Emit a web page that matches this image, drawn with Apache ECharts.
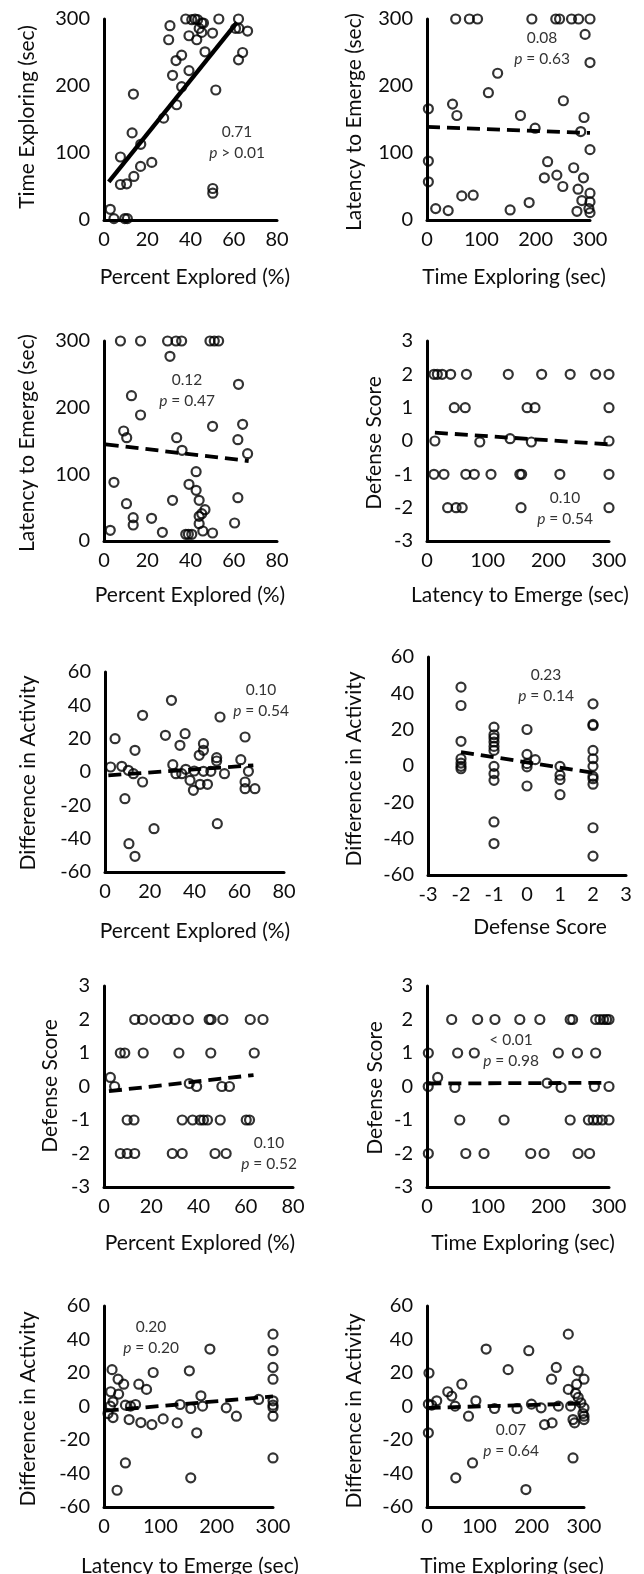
<!DOCTYPE html>
<html>
<head>
<meta charset="utf-8">
<script src="https://cdn.jsdelivr.net/npm/echarts@6/dist/echarts.min.js"></script>
<style>
  html, body { margin: 0; padding: 0; background: #fff; }
  #main { width: 644px; height: 1574px; }
</style>
</head>
<body>
<div id="main"></div>
<script>
// panel 1: percent explored vs time exploring
const exploredVsTime = [[2.9,16],[4.6,2],[7.6,53],[7.6,94],[9.6,2],[10.8,2],[10.5,54],[13,130],[13.6,188],[13.8,65],[16.9,80],[17,113],[22.1,86],[27.6,152],[29.9,269],[30.5,290],[31.7,216],[33.6,172],[33.3,238],[35.9,246],[35.9,199],[37.8,300],[39.3,223],[39.3,275],[40.6,299],[42.1,300],[42.9,269],[43.3,299],[44,286],[45.2,294],[45.2,280],[46,294],[46.7,251],[50.2,279],[50.3,47],[50.3,40],[51.7,194],[53.1,300],[60.8,286],[62.2,300],[62.4,286],[62.2,239],[64.1,250],[66.4,282]];
const exploredVsTimeFit = [[2.2,57],[61.5,295]];

// panel 2: time exploring vs latency
const timeVsLatency = [[52.8,300],[78,300],[93,300],[193,300],[237,300],[244,300],[266,300],[279,300],[300,300],[291,277],[300,235],[130,219],[113,190],[47,173],[55,156],[2.5,166],[251,178],[172,156],[199,137],[289,153],[283,132],[300,105],[2.5,88],[2.5,57],[222,87],[216,63],[239,67],[250,50],[270,78],[288,63],[278,46],[285,29],[300,40],[300,27],[298,17],[276,13],[300,11],[16,17],[39,14],[64,36],[85,37],[153,15],[188,26]];
const timeVsLatencyFit = [[0,139],[300,130]];

// panel 3: percent explored vs latency
const exploredVsLatency = [[7.6,300],[16.9,300],[29.4,300],[33.3,300],[35.9,300],[49,300],[51,300],[53,300],[30.5,277],[12.7,218],[16.9,189],[9.1,165],[10.5,155],[33.6,155],[36.1,136],[50.2,172],[62.2,235],[64.1,175],[61.9,152],[66.4,131],[42.6,104],[4.6,88],[10.4,56],[13.5,35],[13.5,24],[2.9,16],[22,34],[27,13],[31.7,61],[39.3,85],[42.6,76],[44,61],[44,37],[45.2,41],[46.7,47],[44,26],[45.7,15],[50.2,12],[37.8,10],[39,10],[40.6,10],[60.4,27],[61.9,65]];
const exploredVsLatencyFit = [[0.8,145],[66.9,120]];

// panel 4: latency vs defense score
const latencyVsDefense = [[11.5,2],[17,2],[25,2],[39,2],[65,2],[134,2],[189,2],[236,2],[278,2],[300,2],[45,1],[63,1],[165,1],[178,1],[300,1],[13,0],[87,-0.03],[137,0.07],[172,-0.03],[300,0],[11.5,-1],[28,-1],[64,-1],[78,-1],[105.5,-1],[153,-1],[156,-1],[219,-1],[300,-1],[34,-2],[48,-2],[58,-2],[155,-2],[300,-2]];
const latencyVsDefenseFit = [[13,0.25],[300,-0.1]];

// panel 5: percent explored vs difference in activity
const exploredVsActivity = [[2.5,3],[4.5,20],[7.5,3.4],[8.9,-16],[10.4,1],[10.7,-43],[13.4,13],[13.4,-50.6],[12.7,-1],[16.8,34],[16.8,-6],[21.9,-34],[27,22],[29.7,43],[30.3,4.4],[31.7,-1],[33.5,16],[34.3,-1],[35.8,23],[36.1,1.6],[38,-5],[39.5,-11],[39.9,0.6],[42.1,10],[44,13],[44,17],[44,0.4],[42.5,-7.4],[45.8,-7.4],[47.3,0.4],[49.9,8.6],[49.9,6.6],[50.2,-31],[51.4,33],[53.4,-1],[60.7,7.4],[62.6,21],[62.6,-6],[62.6,-10],[64.1,0.4],[67,-10]];
const exploredVsActivityFit = [[1.5,-2],[66.3,4]];

// panel 6: defense score vs difference in activity
const defenseVsActivity = [[-2,43.4],[-2,33.3],[-2,13.6],[-2,4],[-2,1.6],[-2,-0.2],[-2,-1.5],[-1,21.4],[-1,17.2],[-1,15.4],[-1,13.2],[-1,10.8],[-1,8.6],[-1,-0.2],[-1,-4.2],[-1,-7.9],[-1,-30.8],[-1,-42.7],[0,20.1],[0,6.4],[0,1.3],[0,-0.5],[0,-11],[0.25,3.5],[1,-0.2],[1,-5.1],[1,-7.5],[1,-15.8],[2,34.2],[2,22.9],[2,22.3],[2,8.6],[2,4],[2,-0.2],[2,-5.7],[2,-7],[2,-10],[2,-34],[2,-49.6]];
const defenseVsActivityFit = [[-2,7.7],[2,-3.7]];

// panel 7: percent explored vs defense score
const exploredVsDefense = [[13,2],[16.3,2],[21.5,2],[26.8,2],[30,2],[35.7,2],[44.5,2],[45.3,2],[50.3,2],[61.9,2],[67.3,2],[6.9,1],[8.8,1],[16.6,1],[31.7,1],[45.2,1],[63.6,1],[2.7,0.27],[4.5,0],[36.1,0.09],[39.2,0],[49.9,0],[53.1,0],[9.8,-1],[12.7,-1],[33.1,-1],[37.5,-1],[40.7,-1],[42.1,-1],[43.8,-1],[49.2,-1],[60.2,-1],[61.6,-1],[6.9,-2],[9.8,-2],[13,-2],[28.9,-2],[33.1,-2],[47,-2],[51.7,-2]];
const exploredVsDefenseFit = [[2.1,-0.14],[63.3,0.34]];

// panel 8: time exploring vs defense score
const timeVsDefense = [[40.7,2],[83.5,2],[112,2],[153,2],[186,2],[236,2],[240,2],[278,2],[285,2],[291,2],[296,2],[300,2],[2.2,1],[50.5,1],[78,1],[216.5,1],[248,1],[278,1],[2,0],[17.6,0.27],[46,-0.03],[198,0.1],[221,-0.03],[276,0],[300,0],[54,-1],[127,-1],[236,-1],[266,-1],[274,-1],[281,-1],[289,-1],[300,-1],[2.2,-2],[64,-2],[94,-2],[171,-2],[193,-2],[249,-2],[268,-2]];
const timeVsDefenseFit = [[2.2,0.09],[296,0.11]];

// panel 9: latency vs difference in activity
const latencyVsActivity = [[14.3,22],[11.9,8.8],[16,2.8],[11.3,0.2],[7.1,-4.2],[16,-6.6],[25,16.3],[35,13.3],[26,7.4],[38,0.8],[44.6,-7.8],[38,-33.7],[23.2,-50],[47,0.2],[56,1.2],[61.8,13.3],[75.5,10.2],[65.4,-9.6],[87.3,20.3],[85,-10.8],[105,-7.4],[130,-9.8],[135,1.2],[151.5,21.3],[154,-1.2],[154,-42.6],[164.6,-15.7],[172,6.4],[175,0.2],[188,34.3],[217,-0.8],[235,-5.8],[274.5,4.2],[300,43.2],[300,33.3],[300,23.3],[300,16.3],[300,3.4],[300,0.8],[300,-0.6],[300,-5.8],[300,-30.7]];
const latencyVsActivityFit = [[3,-2.5],[300,6]];

// panel 10: time exploring vs difference in activity
const timeVsActivity = [[3.8,20],[2.6,1.4],[2.6,-15.7],[9,0.8],[18.6,3.4],[39.7,8.8],[47.3,6.2],[53.7,0.2],[66.5,13.3],[79.3,-5.8],[55,-42.6],[87,-33.7],[93.4,3.4],[113,34.3],[129,-1.2],[155,22],[172,-1.2],[189,-49.6],[194.5,33.3],[199.6,1.4],[218,-0.8],[224.6,-10.8],[239,-9.8],[238,16.3],[247,23.3],[251,0.2],[270,43.2],[270,10.2],[274.5,0.2],[279,-30.7],[279,-7.8],[282,-9.8],[289,21.3],[286,13.3],[284,7.8],[289,5.4],[300,16.3],[294,2.2],[300,-0.8],[300,-5.8],[300,-7.8],[298,-4.2]];
const timeVsActivityFit = [[1.3,-0.8],[300,1.8]];

const axisTitles = ['Percent Explored (%)', 'Time Exploring (sec)', 'Latency to Emerge (sec)', 'Defense Score', 'Difference in Activity'];
const statR = ['0.71', '0.08', '0.12', '0.10', '0.10', '0.23', '0.10', '< 0.01', '0.20', '0.07'];
const statP = ['> 0.01', '= 0.63', '= 0.47', '= 0.54', '= 0.54', '= 0.14', '= 0.52', '= 0.98', '= 0.20', '= 0.64'];

const PCT = {min: 0, max: 80, interval: 20};
const SEC = {min: 0, max: 300, interval: 100};
const DEF = {min: -3, max: 3, interval: 1};
const ACT = {min: -60, max: 60, interval: 20};

const panels = [
  {pts: exploredVsTime, fit: exploredVsTimeFit, solid: true, x: PCT, y: SEC, xt: 0, yt: 1,
   g: [104, 19, 173, 201], xT: [195, 277], yT: [27, 117], s: [237, 132]},
  {pts: timeVsLatency, fit: timeVsLatencyFit, x: SEC, y: SEC, xt: 1, yt: 2,
   g: [427, 19, 163, 201], xT: [514, 277], yT: [354, 122], s: [542, 38]},
  {pts: exploredVsLatency, fit: exploredVsLatencyFit, x: PCT, y: SEC, xt: 0, yt: 2,
   g: [104, 341, 173, 200], xT: [190, 595], yT: [27, 443], s: [187, 380]},
  {pts: latencyVsDefense, fit: latencyVsDefenseFit, x: SEC, y: DEF, xt: 2, yt: 3,
   g: [427, 341, 182, 200], xT: [520, 595], yT: [374, 443], s: [565, 498]},
  {pts: exploredVsActivity, fit: exploredVsActivityFit, x: PCT, y: ACT, xt: 0, yt: 4,
   g: [105, 672, 179, 200], xT: [195, 931], yT: [28, 773], s: [261, 690]},
  {pts: defenseVsActivity, fit: defenseVsActivityFit, x: DEF, y: ACT, xt: 3, yt: 4,
   g: [428, 657, 198, 218], xT: [540, 927], yT: [354, 769], s: [546, 675]},
  {pts: exploredVsDefense, fit: exploredVsDefenseFit, x: PCT, y: DEF, xt: 0, yt: 3,
   g: [104, 986, 189, 201], xT: [200, 1243], yT: [50, 1086], s: [269, 1143]},
  {pts: timeVsDefense, fit: timeVsDefenseFit, x: SEC, y: DEF, xt: 1, yt: 3,
   g: [427, 986, 182, 201], xT: [523, 1243], yT: [375, 1088], s: [511, 1040]},
  {pts: latencyVsActivity, fit: latencyVsActivityFit, x: SEC, y: ACT, xt: 2, yt: 4,
   g: [104, 1306, 169, 201], xT: [190, 1566], yT: [28, 1409], s: [151, 1327]},
  {pts: timeVsActivity, fit: timeVsActivityFit, x: SEC, y: ACT, xt: 1, yt: 4,
   g: [427, 1306, 157, 201], xT: [512, 1566], yT: [354, 1411], s: [511, 1430]}
];

const FONT = 'Lato';
const INK = '#0d0d0d';

const grid = [], xAxis = [], yAxis = [], series = [], graphic = [];

function axisOf(i, range, margin) {
  return {
    gridIndex: i, type: 'value', min: range.min, max: range.max, interval: range.interval,
    axisLine: {onZero: false, lineStyle: {color: '#000', width: 3}},
    axisTick: {show: false},
    splitLine: {show: false},
    axisLabel: {fontFamily: FONT, fontSize: 20, color: INK, margin: margin}
  };
}

panels.forEach((p, i) => {
  grid.push({left: p.g[0], top: p.g[1], width: p.g[2], height: p.g[3]});
  xAxis.push(axisOf(i, p.x, 10));
  yAxis.push(axisOf(i, p.y, 14));
  series.push({
    type: 'scatter', xAxisIndex: i, yAxisIndex: i, data: p.pts, clip: false,
    symbol: 'circle', symbolSize: 9,
    itemStyle: {color: 'rgba(255,255,255,0)', borderColor: '#000', borderWidth: 2.2},
    silent: true, z: 2
  });
  series.push({
    type: 'line', xAxisIndex: i, yAxisIndex: i, data: p.fit, showSymbol: false, symbol: 'none',
    lineStyle: {color: '#000', width: p.solid ? 4.3 : 3.8, type: p.solid ? 'solid' : [13, 7]},
    silent: true, z: 3
  });
  graphic.push({
    type: 'text', x: p.xT[0], y: p.xT[1],
    style: {text: axisTitles[p.xt], fontFamily: FONT, fontSize: 21, fill: INK,
            align: 'center', verticalAlign: 'middle', textAlign: 'center', textVerticalAlign: 'middle'}
  });
  graphic.push({
    type: 'text', x: p.yT[0], y: p.yT[1], rotation: Math.PI / 2,
    style: {text: axisTitles[p.yt], fontFamily: FONT, fontSize: 21, fill: INK,
            align: 'center', verticalAlign: 'middle', textAlign: 'center', textVerticalAlign: 'middle'}
  });
  graphic.push({
    type: 'text', x: p.s[0], y: p.s[1],
    style: {text: statR[i], fontFamily: FONT, fontSize: 15.5, fill: '#333',
            align: 'center', verticalAlign: 'middle', textAlign: 'center', textVerticalAlign: 'middle'}
  });
  graphic.push({
    type: 'text', x: p.s[0], y: p.s[1] + 21,
    style: {text: '{i|p} ' + statP[i], fontFamily: FONT, fontSize: 15.5, fill: '#333',
            rich: {i: {fontFamily: FONT, fontSize: 15.5, fontStyle: 'italic', fill: '#333'}},
            align: 'center', verticalAlign: 'middle', textAlign: 'center', textVerticalAlign: 'middle'}
  });
});

const chart = echarts.init(document.getElementById('main'), null, {renderer: 'canvas'});
chart.setOption({
  animation: false,
  backgroundColor: '#fff',
  grid: grid,
  xAxis: xAxis,
  yAxis: yAxis,
  series: series,
  graphic: graphic
});
</script>
</body>
</html>
